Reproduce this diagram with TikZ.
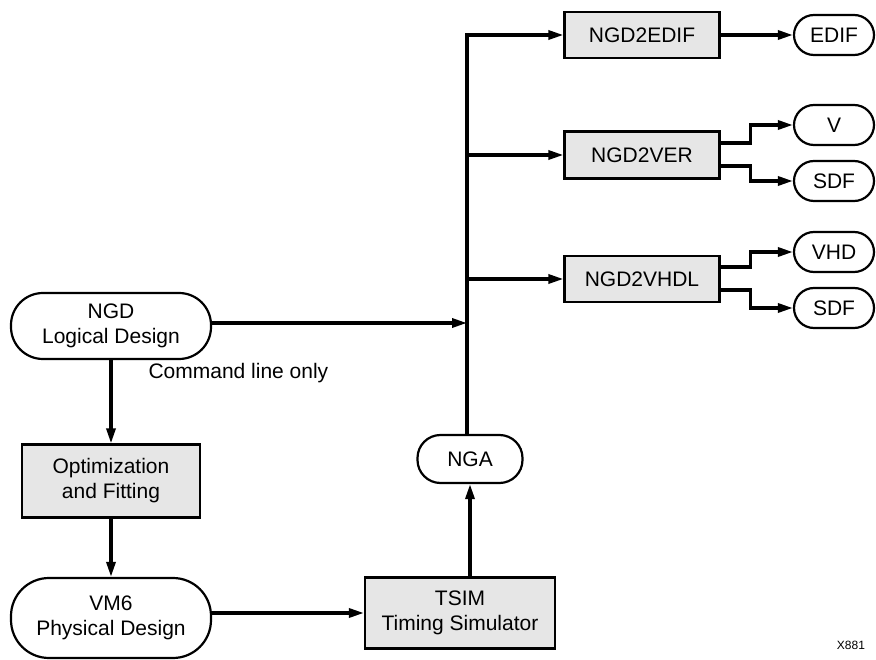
\documentclass[tikz,border=0pt]{standalone}
\usepackage{fontspec}
\setmainfont{Liberation Sans}
\usepackage{xcolor}
\usepackage{tikz}
\usetikzlibrary{arrows.meta}

\definecolor{boxgray}{HTML}{E6E6E6}

\tikzset{
    proc/.style={draw, line width=2.2pt, fill=boxgray, align=center, inner sep=0pt},
    term/.style={draw, line width=2.2pt, rounded corners=#1, align=center, inner sep=0pt},
    conn/.style={line width=3.2pt},
    arrow/.style={conn, -{Triangle[length=15pt,width=9pt]}}
}

\begin{document}
\begin{tikzpicture}[x=1pt, y=-1pt, font=\fontsize{21}{25}\selectfont]
    \useasboundingbox (0,0) rectangle (876,660);

    % Left column
    \node[term=32pt, minimum width=200pt, minimum height=66pt] (ngd) at (111,326) {NGD\\Logical Design};
    \node[proc, minimum width=178pt, minimum height=73pt] (opt) at (111,481) {Optimization\\and Fitting};
    \node[term=38pt, minimum width=200pt, minimum height=80pt] (vm6) at (111,618) {VM6\\Physical Design};
    \node[anchor=west] (cmd) at (145,373) {Command line only};

    % Middle column
    \node[proc, minimum width=190pt, minimum height=71pt] (tsim) at (460,613) {TSIM\\Timing Simulator};
    \node[term=23pt, minimum width=105pt, minimum height=48pt] (nga) at (470,459) {NGA};
    \coordinate (bus) at (467,323);

    % Translators
    \node[proc, minimum width=155pt, minimum height=46pt] (edifbox) at (642,35) {NGD2EDIF};
    \node[proc, minimum width=155pt, minimum height=47pt] (verbox) at (642,155) {NGD2VER};
    \node[proc, minimum width=155pt, minimum height=46pt] (vhdlbox) at (642,279) {NGD2VHDL};

    % Output files
    \foreach \name/\y/\txt in {edif/35/EDIF, v/125/V, sdfa/181/SDF, vhd/252/VHD, sdfb/308/SDF} {
        \node[term=20pt, minimum width=80pt, minimum height=40pt] (\name) at (834,\y) {\txt};
    }

    \node (xref) at (851,645) {\fontsize{12}{14}\selectfont X881};

    % Connectors
    \draw[arrow] (ngd) -- (opt);
    \draw[arrow] (opt) -- (vm6);
    \draw[arrow] (vm6.east |- tsim) -- (tsim.west);
    \draw[arrow] (tsim.north -| nga) -- (nga.south);
    \draw[arrow] (nga.north -| bus) |- (edifbox.west);
    \draw[arrow] (ngd.east |- bus) -- (bus);
    \draw[arrow] (bus |- verbox) -- (verbox.west);
    \draw[arrow] (bus |- vhdlbox) -- (vhdlbox.west);
    \draw[arrow] (edifbox) -- (edif);
    \draw[arrow] ([yshift=12pt]verbox.east) -- ++(30,0) |- (v.west);
    \draw[arrow] ([yshift=-11pt]verbox.east) -- ++(30,0) |- (sdfa.west);
    \draw[arrow] ([yshift=12pt]vhdlbox.east) -- ++(30,0) |- (vhd.west);
    \draw[arrow] ([yshift=-11pt]vhdlbox.east) -- ++(30,0) |- (sdfb.west);

\end{tikzpicture}
\end{document}
